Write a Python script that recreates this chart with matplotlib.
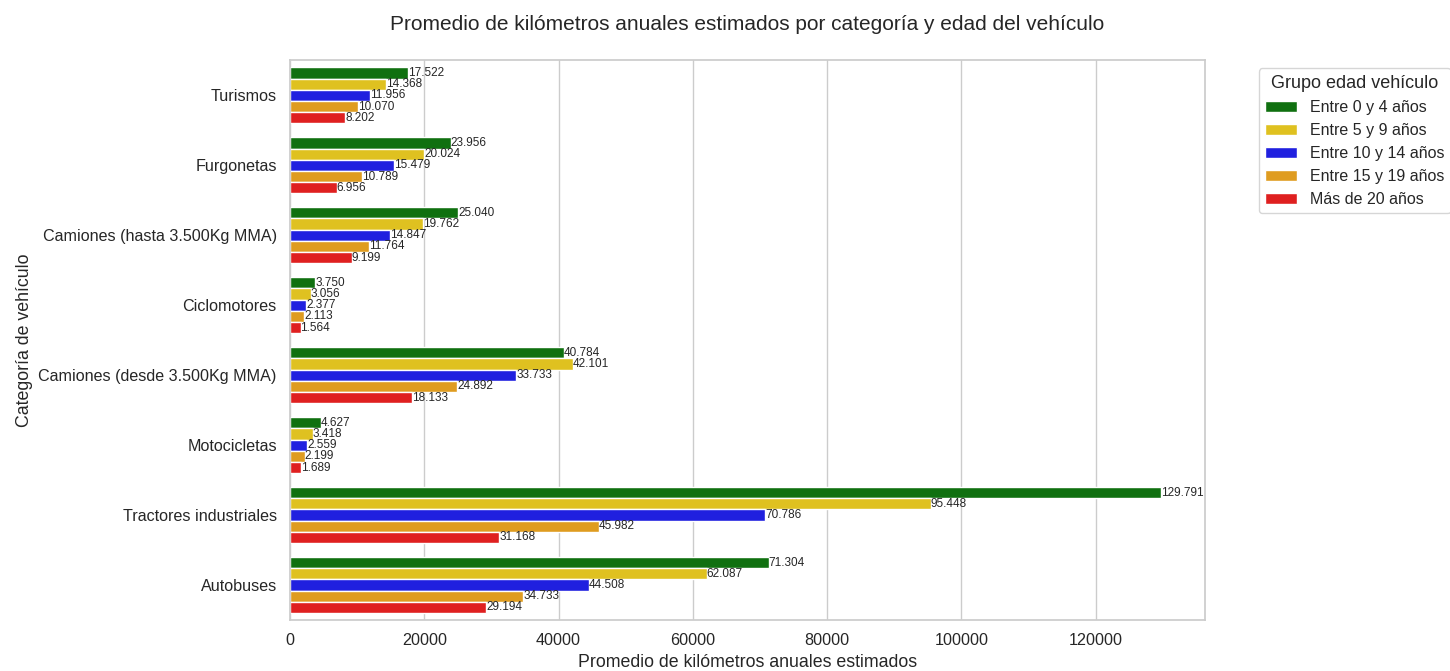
import matplotlib.pyplot as plt
import seaborn as sns
import pandas as pd

# Data
categorias = ["Turismos", "Furgonetas", "Camiones (hasta 3.500Kg MMA)", "Ciclomotores",
              "Camiones (desde 3.500Kg MMA)", "Motocicletas", "Tractores industriales", "Autobuses"]
grupos = ["Entre 0 y 4 años", "Entre 5 y 9 años", "Entre 10 y 14 años",
          "Entre 15 y 19 años", "Más de 20 años"]
km_0_4 = [17522, 23956, 25040, 3750, 40784, 4627, 129791, 71304]
km_5_9 = [14368, 20024, 19762, 3056, 42101, 3418, 95448, 62087]
km_10_14 = [11956, 15479, 14847, 2377, 33733, 2559, 70786, 44508]
km_15_19 = [10070, 10789, 11764, 2113, 24892, 2199, 45982, 34733]
km_20 = [8202, 6956, 9199, 1564, 18133, 1689, 31168, 29194]
colores = ["green", "gold", "blue", "orange", "red"]

series = [km_0_4, km_5_9, km_10_14, km_15_19, km_20]
rows = []
for g, vals in zip(grupos, series):
    for c, v in zip(categorias, vals):
        rows.append({"Categoría": c, "Grupo": g, "km": v})
df = pd.DataFrame(rows)

sns.set_theme(style="whitegrid")
plt.rcParams['font.family'] = ['Liberation Sans', 'DejaVu Sans']

fig, ax = plt.subplots(figsize=(14.5, 6.71), dpi=100)
sns.barplot(data=df, y="Categoría", x="km", hue="Grupo", order=categorias,
            hue_order=grupos, palette=colores, ax=ax, orient="h")

for cont in ax.containers:
    labels = [f"{int(round(w)):,}".replace(",", ".") for w in cont.datavalues]
    ax.bar_label(cont, labels=labels, fontsize=8.5, padding=0)

ax.set_title("Promedio de kilómetros anuales estimados por categoría y edad del vehículo",
             fontsize=15, pad=22)
ax.set_xlabel("Promedio de kilómetros anuales estimados", fontsize=12.8)
ax.set_ylabel("Categoría de vehículo", fontsize=12.8)
ax.tick_params(axis="both", labelsize=11.6)
ax.legend(title="Grupo edad vehículo", bbox_to_anchor=(1.05, 1), loc="upper left",
          fontsize=11.5, title_fontsize=13)

plt.subplots_adjust(left=0.2, right=0.831, top=0.91, bottom=0.076)
plt.savefig("out.png")
